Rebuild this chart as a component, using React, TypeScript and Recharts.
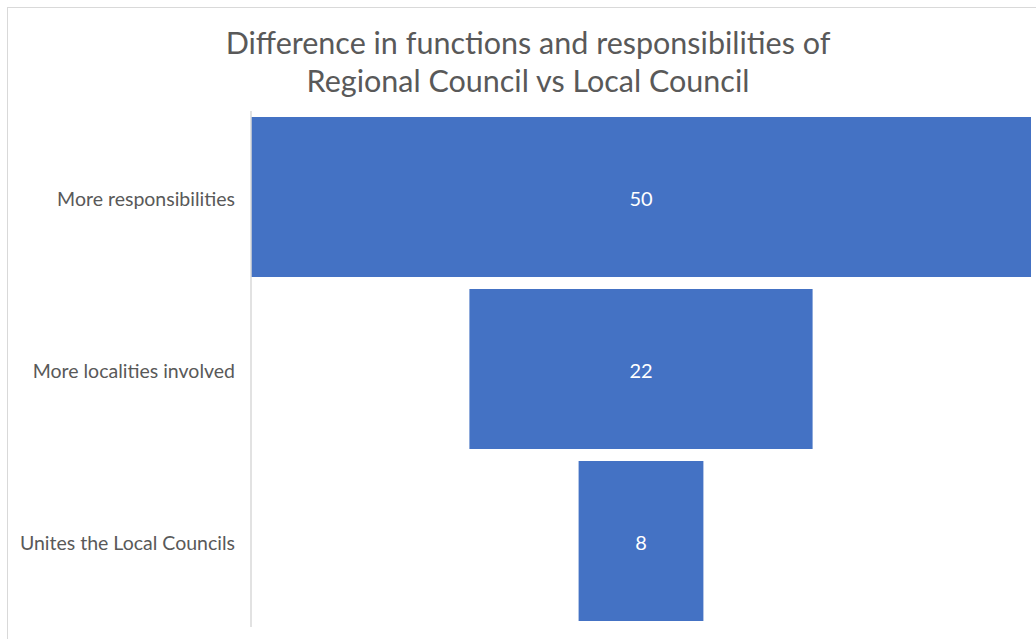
import React from "react";
import { BarChart, Bar, XAxis, YAxis, LabelList } from "recharts";

const categories = ["More responsibilities", "More localities involved", "Unites the Local Councils"];
const values = [50, 22, 8];
const titleLines = ["Difference in functions and responsibilities of", "Regional Council vs Local Council"];

const maxValue = Math.max(...values);
const data = categories.map((name, i) => ({
  name,
  pad: (maxValue - values[i]) / 2,
  value: values[i],
}));

const FONT = "Lato, 'Open Sans', sans-serif";

export default function App() {
  return (
    <div
      style={{
        position: "absolute",
        left: 0,
        top: 0,
        width: 1036,
        height: 639,
        overflow: "hidden",
        background: "#ffffff",
        fontFamily: FONT,
      }}
    >
      <div
        style={{
          position: "absolute",
          left: 7,
          top: 7,
          width: 1200,
          height: 800,
          border: "1px solid #d9d9d9",
        }}
      />
      <div
        style={{
          position: "absolute",
          left: 0,
          top: 23,
          width: 1056,
          textAlign: "center",
          color: "#595959",
          fontSize: 30.5,
          lineHeight: "38px",
        }}
      >
        {titleLines.map((t) => (
          <div key={t}>{t}</div>
        ))}
      </div>
      <div style={{ position: "absolute", left: 0, top: 0 }}>
        <BarChart
          width={1036}
          height={639}
          data={data}
          layout="vertical"
          margin={{ top: 111, right: 5, bottom: 12, left: 0 }}
          barCategoryGap={6}
        >
          <XAxis type="number" hide domain={[0, maxValue]} />
          <YAxis
            type="category"
            dataKey="name"
            width={251}
            tickLine={false}
            tickSize={0}
            tickMargin={16}
            axisLine={{ stroke: "#d9d9d9", strokeWidth: 1.5 }}
            tick={{ fill: "#595959", fontSize: 19.5, fontFamily: FONT, dy: 2 }}
          />
          <Bar dataKey="pad" stackId="f" fill="transparent" isAnimationActive={false} />
          <Bar dataKey="value" stackId="f" fill="#4472c4" isAnimationActive={false}>
            <LabelList
              dataKey="value"
              position="center"
              fill="#ffffff"
              offset={0}
              style={{ fontSize: 20, fontFamily: FONT, transform: "translateY(2px)" }}
            />
          </Bar>
        </BarChart>
      </div>
    </div>
  );
}
